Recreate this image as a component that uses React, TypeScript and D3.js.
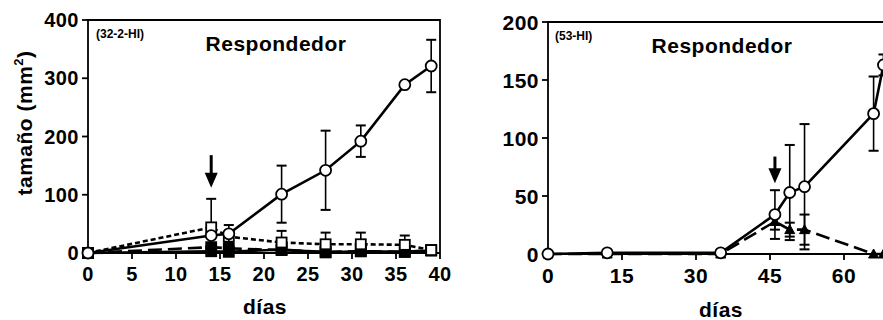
import React, { useEffect, useRef } from "react";
import * as d3 from "d3";

// panel A (32-2-HI)
const daysA = [0, 14, 16, 22, 27, 31, 36, 39];
const circA = [0, 30, 33, 101, 142, 192, 289, 321];
const circAErr = [0, 0, 15, 49, 68, 27, 0, 45];
const sqOpenA = [0, 44, 28, 18, 15, 15, 14, 5];
const sqOpenAErr = [0, 49, 0, 20, 20, 20, 16, 0];
const sqFillA = [0, 10, 8, 5, 2, 3, 2, 5];
const sqFill2A = [0, 3, 2, 6, 1, 3, 2, 4];
const ticksXA = [0, 5, 10, 15, 20, 25, 30, 35, 40];
const ticksYA = [0, 100, 200, 300, 400];

// panel B (53-HI)
const daysB = [0, 12, 35, 46, 49, 52, 66, 68];
const circB = [0, 1, 1, 34, 53, 58, 121, 163];
const circBErr = [0, 0, 0, 21, 41, 54, 32, 9];
const triB = [0, 0, 0, 28, 21, 21, 0, 0];
const triBErr = [0, 0, 0, 7, 6, 13, 0, 0];
const ticksXB = [0, 15, 30, 45, 60];
const ticksYB = [0, 50, 100, 150, 200];

const FONT = "'Liberation Sans', Arial, sans-serif";

function drawPanel(svg, opts) {
  const { left, top, right, bottom, xMax, yMax, xTicks, yTicks, tag, tagX, titleX, labelX, labelY, fs, arrow } = opts;
  const x = d3.scaleLinear().domain([0, xMax]).range([left, right]);
  const y = d3.scaleLinear().domain([0, yMax]).range([bottom, top]);
  const g = svg.append("g");

  // frame (top / right) and axes
  g.append("path")
    .attr("d", `M${left},${bottom} L${left},${top} L${right},${top} L${right},${bottom}`)
    .attr("fill", "none").attr("stroke", "#000").attr("stroke-width", 1.8);
  g.append("line").attr("x1", left).attr("x2", right).attr("y1", bottom).attr("y2", bottom)
    .attr("stroke", "#000").attr("stroke-width", 2);

  xTicks.forEach(t => {
    g.append("line").attr("x1", x(t)).attr("x2", x(t)).attr("y1", bottom).attr("y2", bottom + 6)
      .attr("stroke", "#000").attr("stroke-width", 1.8);
    g.append("text").attr("x", x(t)).attr("y", bottom + fs + 8).attr("text-anchor", "middle")
      .attr("font-family", FONT).attr("font-weight", "bold").attr("font-size", fs)
      .attr("letter-spacing", 0.5).text(t);
  });
  yTicks.forEach(t => {
    g.append("line").attr("x1", left - 6).attr("x2", left).attr("y1", y(t)).attr("y2", y(t))
      .attr("stroke", "#000").attr("stroke-width", 1.8);
    g.append("text").attr("x", left - 9).attr("y", y(t) + fs * 0.36).attr("text-anchor", "end")
      .attr("font-family", FONT).attr("font-weight", "bold").attr("font-size", fs)
      .attr("letter-spacing", 0.5).text(t);
  });

  g.append("text").attr("x", tagX).attr("y", top + 18).attr("font-family", FONT)
    .attr("font-weight", "bold").attr("font-size", 12).text(tag);
  g.append("text").attr("x", titleX).attr("y", top + 31).attr("text-anchor", "middle")
    .attr("font-family", FONT).attr("font-weight", "bold").attr("font-size", 21)
    .attr("letter-spacing", 0.5).text("Respondedor");
  g.append("text").attr("x", labelX).attr("y", labelY).attr("text-anchor", "middle")
    .attr("font-family", FONT).attr("font-weight", "bold").attr("font-size", 21)
    .attr("letter-spacing", 0.5).text("días");

  // arrow
  const ax = x(arrow[0]);
  const headTop = y(arrow[2]) - 15;
  g.append("line").attr("x1", ax).attr("x2", ax).attr("y1", y(arrow[1])).attr("y2", headTop + 2)
    .attr("stroke", "#000").attr("stroke-width", 3);
  g.append("path").attr("d", `M${ax - 6.5},${headTop} L${ax + 6.5},${headTop} L${ax},${y(arrow[2])} Z`)
    .attr("fill", "#000");

  return { g, x, y };
}

function drawSeries(g, x, y, days, vals, errs, style) {
  const line = d3.line().x((d, i) => x(days[i])).y(d => y(d));
  // error bars
  if (errs) {
    vals.forEach((v, i) => {
      const e = errs[i];
      if (!e) return;
      const cx = x(days[i]);
      const lo = y(Math.max(0, v - e)), hi = y(v + e);
      g.append("line").attr("x1", cx).attr("x2", cx).attr("y1", lo).attr("y2", hi)
        .attr("stroke", "#000").attr("stroke-width", 1.6);
      [lo, hi].forEach(yy => g.append("line").attr("x1", cx - 5).attr("x2", cx + 5)
        .attr("y1", yy).attr("y2", yy).attr("stroke", "#000").attr("stroke-width", 2));
    });
  }
  g.append("path").datum(vals).attr("d", line).attr("fill", "none").attr("stroke", "#000")
    .attr("stroke-width", 2.6).attr("stroke-dasharray", style.dash || null);
  vals.forEach((v, i) => {
    const cx = x(days[i]), cy = y(v);
    if (style.shape === "circle") {
      g.append("circle").attr("cx", cx).attr("cy", cy).attr("r", 5.5)
        .attr("fill", style.fill).attr("stroke", "#000").attr("stroke-width", 1.8);
    } else if (style.shape === "square") {
      g.append("rect").attr("x", cx - 5).attr("y", cy - 5).attr("width", 10).attr("height", 10)
        .attr("fill", style.fill).attr("stroke", "#000").attr("stroke-width", 1.8);
    } else {
      g.append("path").attr("d", `M${cx - 5},${cy + 4} L${cx + 5},${cy + 4} L${cx},${cy - 5} Z`)
        .attr("fill", style.fill).attr("stroke", "#000").attr("stroke-width", 1);
    }
  });
}

export default function App() {
  const ref = useRef(null);

  useEffect(() => {
    const svg = d3.select(ref.current);
    svg.selectAll("*").remove();

    // left panel
    const A = drawPanel(svg, {
      left: 88, top: 20, right: 440, bottom: 253, xMax: 40, yMax: 400,
      xTicks: ticksXA, yTicks: ticksYA, tag: "(32-2-HI)", tagX: 96, titleX: 276,
      labelX: 265, labelY: 314, fs: 20, arrow: [14, 168, 112],
    });
    drawSeries(A.g, A.x, A.y, daysA, sqFill2A, null, { shape: "square", fill: "#000" });
    drawSeries(A.g, A.x, A.y, daysA, sqFillA, null, { shape: "square", fill: "#000", dash: "14,6" });
    drawSeries(A.g, A.x, A.y, daysA, sqOpenA, sqOpenAErr, { shape: "square", fill: "#fff", dash: "5,3" });
    drawSeries(A.g, A.x, A.y, daysA, circA, circAErr, { shape: "circle", fill: "#fff" });

    // right panel
    const B = drawPanel(svg, {
      left: 548, top: 22, right: 548 + 74 * 70 / 15, bottom: 254, xMax: 70, yMax: 200,
      xTicks: ticksXB, yTicks: ticksYB, tag: "(53-HI)", tagX: 555, titleX: 722,
      labelX: 721, labelY: 317, fs: 21, arrow: [46, 84, 61],
    });
    drawSeries(B.g, B.x, B.y, daysB, triB, triBErr, { shape: "triangle", fill: "#000", dash: "14,6" });
    drawSeries(B.g, B.x, B.y, daysB, circB, circBErr, { shape: "circle", fill: "#fff" });

    // y label
    const yl = svg.append("text").attr("transform", "translate(32,123) rotate(-90)")
      .attr("text-anchor", "middle").attr("font-family", FONT).attr("font-weight", "bold")
      .attr("font-size", 21).attr("letter-spacing", 0.5);
    yl.append("tspan").text("tamaño (mm");
    yl.append("tspan").attr("dy", -9).attr("font-size", 13).text("2");
    yl.append("tspan").attr("dy", 9).text(")");
  }, []);

  return (
    <svg ref={ref} width={883} height={320}
      style={{ position: "absolute", left: 0, top: 0, background: "#fff" }} />
  );
}
